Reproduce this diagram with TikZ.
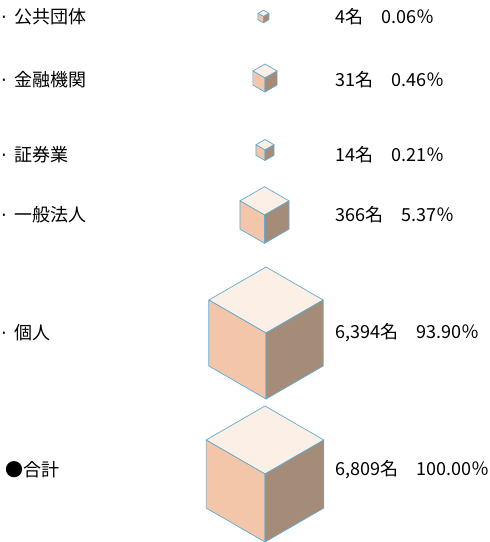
\documentclass[tikz,border=0pt]{standalone}
\usepackage{fontspec}
\setmainfont{Noto Sans CJK JP}
\newfontfamily\symfont{DejaVu Sans}
\usepackage{xcolor}
\usepackage{tikz}
\usetikzlibrary{positioning, calc}
\definecolor{cubetop}{RGB}{252, 239, 229}
\definecolor{cubeleft}{RGB}{243, 198, 170}
\definecolor{cuberight}{RGB}{165, 140, 120}
\definecolor{cubeedge}{RGB}{95, 172, 212}
\newcommand{\dotmark}{{\symfont ·}\hspace{0.4em}}

\begin{document}
\begin{tikzpicture}[x=1pt, y=-1pt,
    label/.style={anchor=west, inner sep=0pt, font=\fontsize{18}{18}\selectfont},
    edge/.style={draw=cubeedge, line width=0.7pt, line join=round}]
    \useasboundingbox (0,0) rectangle (490,542);

    % The cubes (center, half height)
    \foreach \n/\cx/\cy/\s in {1/263.5/16.5/6.3, 2/265/78/14, 3/265/150/10.5,
                               4/264.5/215/28.3, 5/266/333/66, 6/265/474/68} {
        \coordinate (c\n) at (\cx,\cy);
        % top face
        \filldraw[edge, fill=cubetop] (c\n) -- ++(-0.866*\s,-0.5*\s) -- ++(0.866*\s,-0.5*\s)
            -- ++(0.866*\s,0.5*\s) -- cycle;
        % left face
        \filldraw[edge, fill=cubeleft] (c\n) -- ++(-0.866*\s,-0.5*\s) -- ++(0,\s)
            -- ++(0.866*\s,0.5*\s) -- cycle;
        % right face
        \filldraw[edge, fill=cuberight] (c\n) -- ++(0.866*\s,-0.5*\s) -- ++(0,\s)
            -- ++(-0.866*\s,0.5*\s) -- cycle;
    }

    % The categories and counts
    \foreach \n/\y/\lab/\val in {1/17/{\dotmark 公共団体}/{4名　0.06％},
                                 2/80/{\dotmark 金融機関}/{31名　0.46％},
                                 3/155/{\dotmark 証券業}/{14名　0.21％},
                                 4/215/{\dotmark 一般法人}/{366名　5.37％},
                                 5/333/{\dotmark 個人}/{6,394名　93.90％},
                                 6/470/{\kern0.25em●合計}/{6,809名　100.00％}} {
        \node[label] (lab\n) at (1,\y) {\lab};
        \node[label] (val\n) at (335,\y) {\val};
    }
\end{tikzpicture}
\end{document}
